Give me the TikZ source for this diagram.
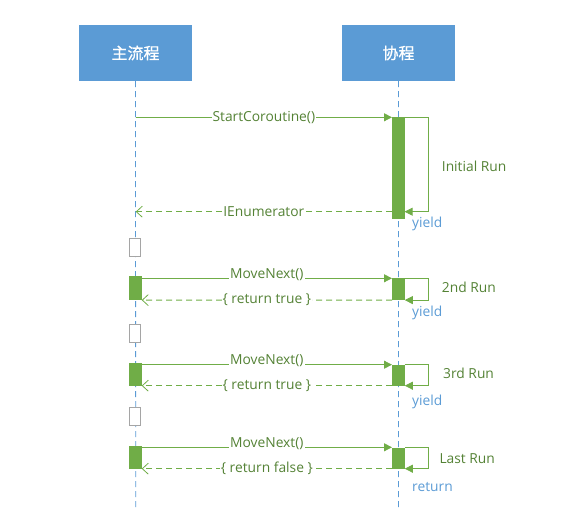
\documentclass[tikz,border=0pt]{standalone}
\usepackage{fontspec}
\setmainfont{Open Sans}
\newfontfamily\cjk[FakeBold=0.8]{Noto Sans CJK SC}
\usetikzlibrary{positioning,arrows.meta}
\definecolor{boxblue}{HTML}{5B9BD5}
\definecolor{rungreen}{HTML}{70AD47}
\definecolor{txtgreen}{HTML}{548235}
\definecolor{waitgrey}{HTML}{A5A5A5}

\begin{document}
\begin{tikzpicture}[x=1pt,y=-1pt,
	lifebox/.style={fill=boxblue, text=white, minimum width=113pt, minimum height=56pt, inner sep=0pt, font=\cjk\fontsize{16}{19}\selectfont},
	lifeline/.style={boxblue, line width=0.8pt, dash pattern=on 6pt off 4pt},
	actbar/.style={fill=rungreen, draw=none, minimum width=12.4pt, inner sep=0pt, anchor=north},
	waitbar/.style={draw=waitgrey, fill=white, line width=0.8pt, minimum width=11pt, minimum height=18pt, inner sep=0pt, anchor=north},
	call/.style={rungreen, line width=0.8pt, -{Triangle[length=8pt,width=8pt]}},
	ret/.style={rungreen, line width=0.8pt, dash pattern=on 6pt off 4pt, -{Straight Barb[length=6pt,width=11pt,line width=0.8pt]}},
	lbl/.style={fill=white, text=txtgreen, inner sep=1pt, font=\fontsize{13.8}{16}\selectfont},
	runlbl/.style={text=txtgreen, anchor=west, inner sep=0pt, font=\fontsize{13.8}{16}\selectfont},
	yldlbl/.style={text=boxblue, anchor=west, inner sep=0pt, font=\fontsize{13.8}{16}\selectfont}]
	\useasboundingbox (0,0) rectangle (563,516);
	% lifelines
	\node[lifebox] (main) at (135.5,53) {主流程};
	\node[lifebox] (coro) at (398.5,53) {协程};
	\coordinate (mainend) at (135.7,508);
	\coordinate (coroend) at (398.4,508);
	\draw[lifeline] (main.south) -- (mainend);
	\draw[lifeline] (coro.south) -- (coroend);
	% initial run
	\coordinate (start) at (135.7,117.3);
	\node[actbar, minimum height=102pt] (run1) at (398.4,117.3) {};
	\coordinate (yield1) at (404.6,211.7);
	\draw[call] (start) -- node[lbl] {StartCoroutine()} (run1.north west);
	\draw[call] (run1.north east) -| ([xshift=24pt]yield1) -- (yield1);
	\draw[ret] (run1.west |- yield1) -- node[lbl] {IEnumerator} (start |- yield1);
	\node[runlbl] (lrun1) at (441.7,166) {Initial Run};
	\node[yldlbl] (ly1) at (412,224) {yield};
	% 2nd run
	\node[waitbar] (wait1) at (135.3,238.3) {};
	\node[actbar, minimum height=23.7pt] (call2) at (135.3,276) {};
	\node[actbar, minimum height=21.4pt] (run2) at (398.4,278.3) {};
	\draw[call] (call2.east |- run2.north) -- node[lbl, yshift=4pt] {MoveNext()} (run2.north west);
	\draw[call] (run2.north east) -| ([xshift=24pt]run2.south east) -- (run2.south east);
	\draw[ret] (run2.south west) -- node[lbl] {\{ return true \}} (call2.south east);
	\node[runlbl] (lrun2) at (441.7,287.3) {2nd Run};
	\node[yldlbl] (ly2) at (412,313) {yield};
	% 3rd run
	\node[waitbar] (wait2) at (135.3,324.3) {};
	\node[actbar, minimum height=23pt] (call3) at (135.3,362.3) {};
	\node[actbar, minimum height=20.6pt] (run3) at (398.4,364.7) {};
	\draw[call] (call3.east |- run3.north) -- node[lbl, yshift=4pt] {MoveNext()} (run3.north west);
	\draw[call] (run3.north east) -| ([xshift=24pt]run3.south east) -- (run3.south east);
	\draw[ret] (run3.south west) -- node[lbl] {\{ return true \}} (call3.south east);
	\node[runlbl] (lrun3) at (443,373.3) {3rd Run};
	\node[yldlbl] (ly3) at (412,402.3) {yield};
	% last run
	\node[waitbar] (wait3) at (135.3,407.3) {};
	\node[actbar, minimum height=23pt] (call4) at (135.3,445.3) {};
	\node[actbar, minimum height=21pt] (run4) at (398.4,447.3) {};
	\draw[call] (call4.east |- run4.north) -- node[lbl, yshift=4pt] {MoveNext()} (run4.north west);
	\draw[call] (run4.north east) -| ([xshift=24pt]run4.south east) -- (run4.south east);
	\draw[ret] (run4.south west) -- node[lbl] {\{ return false \}} (call4.south east);
	\node[runlbl] (lrun4) at (439.3,458.3) {Last Run};
	\node[yldlbl] (ly4) at (412,486.7) {return};
\end{tikzpicture}
\end{document}
